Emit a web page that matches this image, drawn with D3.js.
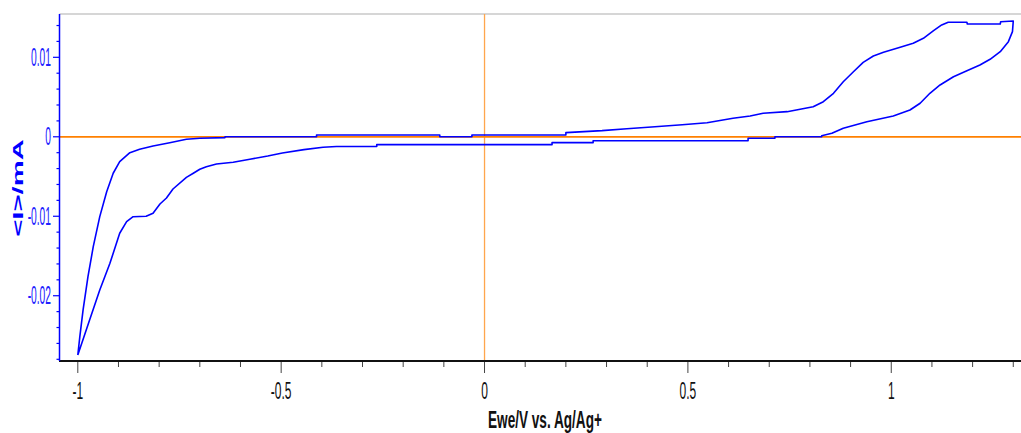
<!DOCTYPE html>
<html>
<head>
<meta charset="utf-8">
<script src="https://cdnjs.cloudflare.com/ajax/libs/d3/7.8.5/d3.min.js"></script>
<style>
  html, body { margin: 0; padding: 0; background: #fff; }
  svg { display: block; }
  text { font-family: "Liberation Sans", Arial, sans-serif; }
</style>
</head>
<body>
<svg width="1021" height="433"></svg>
<script>
// Cyclic voltammogram, Ewe vs Ag/Ag+

// Forward scan (-1 V -> 1.3 V), potential in V, current in mA
const fwdPotential = [-1.000, -0.995, -0.987, -0.975, -0.962, -0.946, -0.929, -0.913, -0.897, -0.872,
  -0.848, -0.815, -0.774, -0.733, -0.700, -0.638, -0.638, -0.413, -0.413, -0.110,
  -0.110, -0.031, -0.031, 0.200, 0.200, 0.289, 0.350, 0.419, 0.486, 0.547,
  0.586, 0.611, 0.653, 0.685, 0.744, 0.776, 0.808, 0.833, 0.858, 0.882,
  0.907, 0.931, 0.956, 0.981, 1.022, 1.054, 1.079, 1.104, 1.124, 1.140,
  1.186, 1.187, 1.268, 1.269, 1.300];
const fwdCurrent = [-0.02746, -0.02515, -0.02179, -0.01760, -0.01383, -0.01005, -0.00691, -0.00459, -0.00313, -0.00200,
  -0.00157, -0.00116, -0.00074, -0.00031, -0.00019, -0.00010, 0, 0, 0.00023, 0.00023,
  0, 0, 0.00023, 0.00023, 0.00052, 0.00077, 0.00102, 0.00127, 0.00152, 0.00177,
  0.00211, 0.00233, 0.00262, 0.00296, 0.00316, 0.00346, 0.00379, 0.00442, 0.00547, 0.00693,
  0.00819, 0.00937, 0.01017, 0.01063, 0.01126, 0.01177, 0.01239, 0.01335, 0.01407, 0.01441,
  0.01441, 0.01419, 0.01419, 0.01448, 0.01457];

// Reverse scan (1.3 V -> -1 V)
const revPotential = [1.300, 1.298, 1.288, 1.268, 1.243, 1.218, 1.186, 1.153, 1.120, 1.095,
  1.071, 1.046, 1.005, 0.940, 0.882, 0.854, 0.829, 0.829, 0.714, 0.714,
  0.648, 0.648, 0.267, 0.267, 0.166, 0.166, -0.265, -0.265, -0.364, -0.397,
  -0.444, -0.497, -0.533, -0.577, -0.618, -0.659, -0.684, -0.700, -0.716, -0.733,
  -0.766, -0.782, -0.798, -0.815, -0.832, -0.864, -0.880, -0.897, -0.921, -0.946,
  -0.971, -1.000];
const revCurrent = [0.01457, 0.01323, 0.01197, 0.01071, 0.00975, 0.00903, 0.00832, 0.00756, 0.00652, 0.00547,
  0.00422, 0.00337, 0.00262, 0.00190, 0.00107, 0.00044, 0.00014, 0, 0, -0.00019,
  -0.00019, -0.00049, -0.00049, -0.00074, -0.00074, -0.00099, -0.00099, -0.00122, -0.00122, -0.00131,
  -0.00162, -0.00204, -0.00242, -0.00282, -0.00321, -0.00342, -0.00376, -0.00409, -0.00459, -0.00510,
  -0.00657, -0.00770, -0.00846, -0.00963, -0.01000, -0.01006, -0.01068, -0.01214, -0.01592, -0.01928,
  -0.02305, -0.02746];

// Axis ticks and labels
const xMajorTicks = [-1, -0.5, 0, 0.5, 1];
const xTickLabels = ["-1", "-0.5", "0", "0.5", "1"];
const yMajorTicks = [0.01, 0, -0.01, -0.02];
const yTickLabels = ["0.01", "0", "-0.01", "-0.02"];
const xTitle = "Ewe/V vs. Ag/Ag+";
const yTitle = "<I>/mA";

const BLUE = "#0000ff";
const ORANGE = "#ff8000";

const svg = d3.select("svg");

// Scales
const x = d3.scaleLinear().domain([-1.045, 1.319]).range([59.5, 1021]);
const y = d3.scaleLinear().domain([-0.02815, 0.01545]).range([360.5, 14]);

// Top frame line
svg.append("line")
    .attr("x1", 59.5).attr("x2", 1021)
    .attr("y1", 14).attr("y2", 14)
    .attr("stroke", "#c8c8c8")
    .attr("stroke-width", 1.6);

// Zero lines
svg.append("line")
    .attr("x1", x(0)).attr("x2", x(0))
    .attr("y1", 14).attr("y2", 360)
    .attr("stroke", "#ffa64d")
    .attr("stroke-width", 1.3);

svg.append("line")
    .attr("x1", 59.5).attr("x2", 1021)
    .attr("y1", y(0)).attr("y2", y(0))
    .attr("stroke", ORANGE)
    .attr("stroke-width", 1.8);

// X axis (minor ticks every 0.1)
const xMinor = d3.range(-10, 14).map(d => d / 10);
svg.append("g")
    .selectAll("line")
    .data(xMinor)
    .enter().append("line")
    .attr("x1", d => x(d)).attr("x2", d => x(d))
    .attr("y1", 361)
    .attr("y2", d => xMajorTicks.some(t => Math.abs(t - d) < 1e-6) ? 373 : 367)
    .attr("stroke", "#444")
    .attr("stroke-width", 1);

svg.append("line")
    .attr("x1", 59).attr("x2", 1021)
    .attr("y1", 361).attr("y2", 361)
    .attr("stroke", "#111")
    .attr("stroke-width", 2);

svg.append("g")
    .selectAll("text")
    .data(xMajorTicks)
    .enter().append("text")
    .attr("transform", d => "translate(" + x(d) + ",399) scale(0.5,1)")
    .attr("text-anchor", "middle")
    .attr("font-size", 24)
    .attr("fill", "#111")
    .text((d, i) => xTickLabels[i]);

svg.append("text")
    .attr("transform", "translate(488,428) scale(0.555,1)")
    .attr("font-size", 24.5)
    .attr("font-weight", "bold")
    .attr("fill", "#111")
    .text(xTitle);

// Y axis (minor ticks every 0.002)
const yMinor = d3.range(-14, 8).map(d => d * 0.002);
svg.append("g")
    .selectAll("line")
    .data(yMinor)
    .enter().append("line")
    .attr("y1", d => y(d)).attr("y2", d => y(d))
    .attr("x1", d => yMajorTicks.some(t => Math.abs(t - d) < 1e-9) ? 53 : 56.5)
    .attr("x2", 59.5)
    .attr("stroke", BLUE)
    .attr("stroke-width", 1.2);

svg.append("line")
    .attr("x1", 59.5).attr("x2", 59.5)
    .attr("y1", 14).attr("y2", 361)
    .attr("stroke", BLUE)
    .attr("stroke-width", 1.5);

svg.append("g")
    .selectAll("text")
    .data(yMajorTicks)
    .enter().append("text")
    .attr("transform", d => "translate(51," + (y(d) + 8.5) + ") scale(0.41,1)")
    .attr("text-anchor", "end")
    .attr("font-size", 25)
    .attr("fill", "#2020ff")
    .text((d, i) => yTickLabels[i]);

svg.append("text")
    .attr("transform", "translate(23,188) rotate(-90) scale(1.95,1)")
    .attr("text-anchor", "middle")
    .attr("font-size", 15)
    .attr("font-weight", "bold")
    .attr("fill", BLUE)
    .text(yTitle);

// CV curve
const fwd = fwdPotential.map((v, i) => [v, fwdCurrent[i]]);
const rev = revPotential.map((v, i) => [v, revCurrent[i]]);
const cycle = fwd.concat(rev);

const line = d3.line()
    .x(d => x(d[0]))
    .y(d => y(d[1]));

svg.append("path")
    .datum(cycle)
    .attr("d", line)
    .attr("fill", "none")
    .attr("stroke", BLUE)
    .attr("stroke-width", 1.6)
    .attr("stroke-linejoin", "round");
</script>
</body>
</html>
